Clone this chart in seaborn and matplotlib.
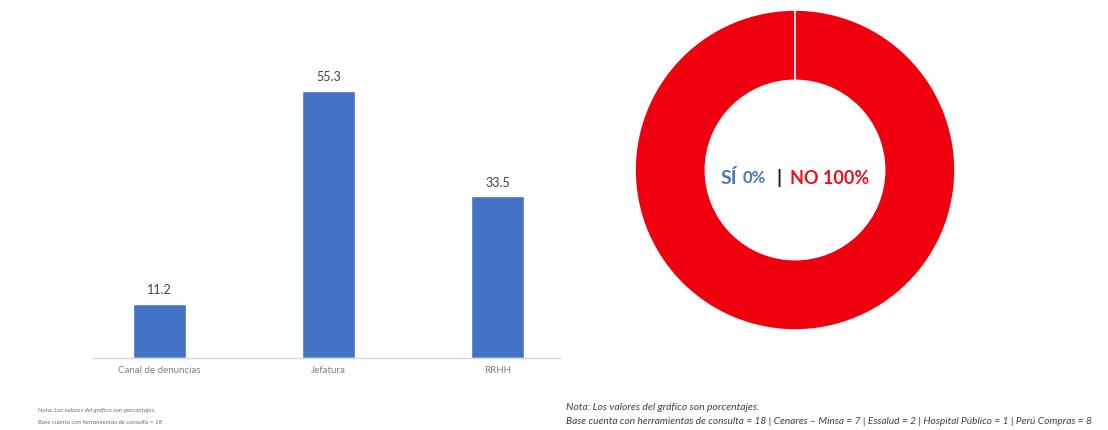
import matplotlib
matplotlib.use("Agg")
import matplotlib.pyplot as plt
import seaborn as sns
import pandas as pd

categories = ["Canal de denuncias", "Jefatura", "RRHH"]
values = [11.2, 55.3, 33.5]
pie_labels = ["SÍ", "NO"]
pie_values = [0, 100]

sns.set_theme(style="white")
plt.rcParams['font.family'] = ['Lato', 'DejaVu Sans']

fig = plt.figure(figsize=(11.08, 4.3), dpi=100)
fig.patch.set_facecolor("white")

# Bar chart
ax = fig.add_axes([92/1108, 72/430, 468/1108, 338/430])
df = pd.DataFrame({"cat": categories, "val": values})
sns.barplot(data=df, x="cat", y="val", color="#4472c4", width=0.31, ax=ax, saturation=1)
ax.set_xlim(-0.40, 2.37)
ax.set_ylim(0, 70)
for i, v in enumerate(values):
    ax.text(i, v + 1.6, f"{v:.1f}", ha="center", va="bottom", fontsize=9, color="#404040")
for s in ["top", "right", "left"]:
    ax.spines[s].set_visible(False)
ax.spines["bottom"].set_color("#d9d9d9")
ax.spines["bottom"].set_linewidth(1)
ax.set_yticks([])
ax.set_xlabel("")
ax.set_ylabel("")
ax.tick_params(axis="x", labelsize=7, colors="#808080", length=0, pad=6)

fig.text(38/1108, 1 - 410/430, "Nota: Los valores del gráfico son porcentajes.", fontsize=4.5,
         style="italic", color="#707070", va="center")
fig.text(38/1108, 1 - 423/430, "Base cuenta con herramientas de consulta = 18", fontsize=4.5,
         style="italic", color="#707070", va="center")

# Donut
ax2 = fig.add_axes([635/1108, 100/430, 320/1108, 320/430])
ax2.pie(pie_values, colors=["#4a78b8", "#f0000f"], startangle=90, counterclock=False,
        radius=1, wedgeprops=dict(width=0.44, edgecolor="white", linewidth=1.2))
ax2.axvline(0, ymin=0.72, ymax=1.0, color="white", linewidth=1.2)
ax2.set_xlim(-1, 1)
ax2.set_ylim(-1, 1)
ax2.set_aspect("equal")
ax2.axis("off")
ty = -0.05
ax2.text(-0.4625, ty, pie_labels[0], ha="left", va="center", fontsize=14, fontweight="bold", color="#4a78b8")
ax2.text(-0.33, ty, f"{pie_values[0]}%", ha="left", va="center", fontsize=12, fontweight="bold", color="#4a78b8")
ax2.text(-0.10, ty, "|", ha="center", va="center", fontsize=14, fontweight="bold", color="#1a1a1a")
ax2.text(-0.03, ty, f"{pie_labels[1]} {pie_values[1]}%", ha="left", va="center", fontsize=13,
         fontweight="bold", color="#e8101c")

fig.text(566/1108, 1 - 408/430, "Nota: Los valores del gráfico son porcentajes.", fontsize=7.5,
         style="italic", color="#404040", va="center")
fig.text(566/1108, 1 - 421/430,
         "Base cuenta con herramientas de consulta = 18 | Cenares – Minsa = 7 | Essalud = 2 | Hospital Público = 1 | Perú Compras = 8",
         fontsize=7.3, style="italic", color="#404040", va="center")

fig.savefig("out.png", dpi=100, facecolor="white")
